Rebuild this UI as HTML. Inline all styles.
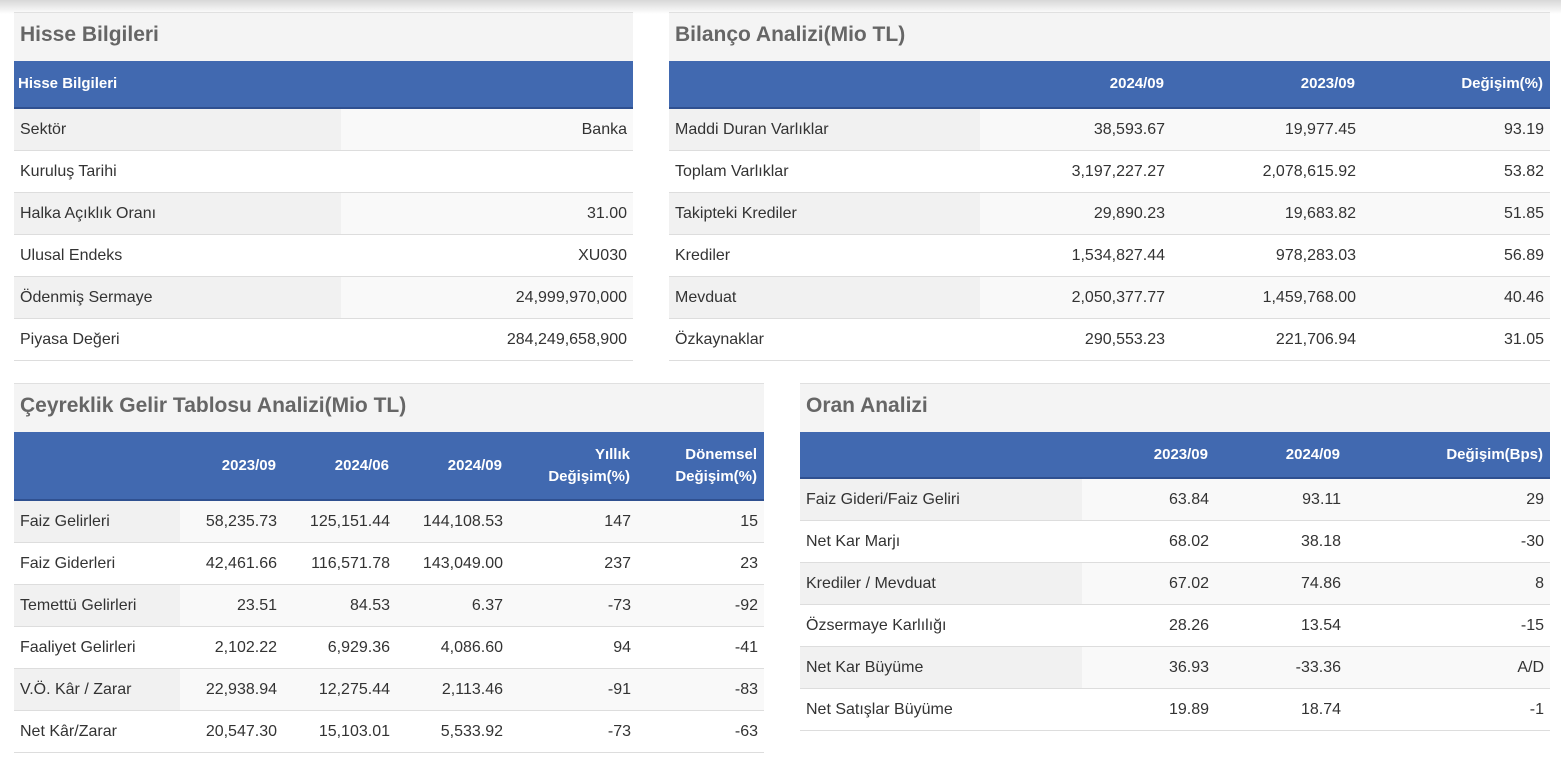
<!DOCTYPE html>
<html><head><meta charset="utf-8"><style>
body{margin:0;width:1561px;height:778px;background:#fff;font-family:"Liberation Sans",sans-serif;position:relative;overflow:hidden}
.topshade{position:absolute;left:0;top:0;width:1561px;height:14px;background:linear-gradient(#d8d8d8,#fff)}
.panel{position:absolute;background:#fff}
.title{height:49px;background:#f4f4f4;border-top:1px solid #e0e0e0;color:#666;font-weight:bold;font-size:21px;line-height:44px;padding-left:6px;box-sizing:border-box}
table{border-collapse:collapse;table-layout:fixed;width:100%}
th{background:#4169b0;color:#fff;font-size:15px;font-weight:bold;text-align:right;padding:0 7px;border-bottom:2px solid #2f5090;line-height:22px}
th.l{text-align:left;padding-left:4px}
td{font-size:16px;color:#333;text-align:right;padding:0 6px;border-bottom:1px solid #ddd;height:41px}
td.l{text-align:left}
tr:nth-child(odd) td{background:#f9f9f9}
tr:nth-child(odd) td.l{background:#f1f1f1}
</style></head><body>
<div class="topshade"></div>

<div class="panel" style="left:14px;top:12px;width:619px">
<div class="title">Hisse Bilgileri</div>
<table>
<colgroup><col style="width:327px"><col></colgroup>
<thead><tr style="height:47px"><th class="l" colspan="2">Hisse Bilgileri</th></tr></thead>
<tbody>
<tr><td class="l">Sektör</td><td>Banka</td></tr>
<tr><td class="l">Kuruluş Tarihi</td><td></td></tr>
<tr><td class="l">Halka Açıklık Oranı</td><td>31.00</td></tr>
<tr><td class="l">Ulusal Endeks</td><td>XU030</td></tr>
<tr><td class="l">Ödenmiş Sermaye</td><td>24,999,970,000</td></tr>
<tr><td class="l">Piyasa Değeri</td><td>284,249,658,900</td></tr>
</tbody></table></div>

<div class="panel" style="left:669px;top:12px;width:881px">
<div class="title">Bilanço Analizi(Mio TL)</div>
<table>
<colgroup><col style="width:311px"><col style="width:191px"><col style="width:191px"><col></colgroup>
<thead><tr style="height:47px"><th class="l"></th><th>2024/09</th><th>2023/09</th><th>Değişim(%)</th></tr></thead>
<tbody>
<tr><td class="l">Maddi Duran Varlıklar</td><td>38,593.67</td><td>19,977.45</td><td>93.19</td></tr>
<tr><td class="l">Toplam Varlıklar</td><td>3,197,227.27</td><td>2,078,615.92</td><td>53.82</td></tr>
<tr><td class="l">Takipteki Krediler</td><td>29,890.23</td><td>19,683.82</td><td>51.85</td></tr>
<tr><td class="l">Krediler</td><td>1,534,827.44</td><td>978,283.03</td><td>56.89</td></tr>
<tr><td class="l">Mevduat</td><td>2,050,377.77</td><td>1,459,768.00</td><td>40.46</td></tr>
<tr><td class="l">Özkaynaklar</td><td>290,553.23</td><td>221,706.94</td><td>31.05</td></tr>
</tbody></table></div>

<div class="panel" style="left:14px;top:383px;width:750px">
<div class="title">Çeyreklik Gelir Tablosu Analizi(Mio TL)</div>
<table>
<colgroup><col style="width:166px"><col style="width:103px"><col style="width:113px"><col style="width:113px"><col style="width:128px"><col></colgroup>
<thead><tr style="height:68px"><th class="l"></th><th>2023/09</th><th>2024/06</th><th>2024/09</th><th>Yıllık<br>Değişim(%)</th><th>Dönemsel<br>Değişim(%)</th></tr></thead>
<tbody>
<tr><td class="l">Faiz Gelirleri</td><td>58,235.73</td><td>125,151.44</td><td>144,108.53</td><td>147</td><td>15</td></tr>
<tr><td class="l">Faiz Giderleri</td><td>42,461.66</td><td>116,571.78</td><td>143,049.00</td><td>237</td><td>23</td></tr>
<tr><td class="l">Temettü Gelirleri</td><td>23.51</td><td>84.53</td><td>6.37</td><td>-73</td><td>-92</td></tr>
<tr><td class="l">Faaliyet Gelirleri</td><td>2,102.22</td><td>6,929.36</td><td>4,086.60</td><td>94</td><td>-41</td></tr>
<tr><td class="l">V.Ö. Kâr / Zarar</td><td>22,938.94</td><td>12,275.44</td><td>2,113.46</td><td>-91</td><td>-83</td></tr>
<tr><td class="l">Net Kâr/Zarar</td><td>20,547.30</td><td>15,103.01</td><td>5,533.92</td><td>-73</td><td>-63</td></tr>
</tbody></table></div>

<div class="panel" style="left:800px;top:383px;width:750px">
<div class="title">Oran Analizi</div>
<table>
<colgroup><col style="width:282px"><col style="width:133px"><col style="width:132px"><col></colgroup>
<thead><tr style="height:46px"><th class="l"></th><th>2023/09</th><th>2024/09</th><th>Değişim(Bps)</th></tr></thead>
<tbody>
<tr><td class="l">Faiz Gideri/Faiz Geliri</td><td>63.84</td><td>93.11</td><td>29</td></tr>
<tr><td class="l">Net Kar Marjı</td><td>68.02</td><td>38.18</td><td>-30</td></tr>
<tr><td class="l">Krediler / Mevduat</td><td>67.02</td><td>74.86</td><td>8</td></tr>
<tr><td class="l">Özsermaye Karlılığı</td><td>28.26</td><td>13.54</td><td>-15</td></tr>
<tr><td class="l">Net Kar Büyüme</td><td>36.93</td><td>-33.36</td><td>A/D</td></tr>
<tr><td class="l">Net Satışlar Büyüme</td><td>19.89</td><td>18.74</td><td>-1</td></tr>
</tbody></table></div>
</body></html>
